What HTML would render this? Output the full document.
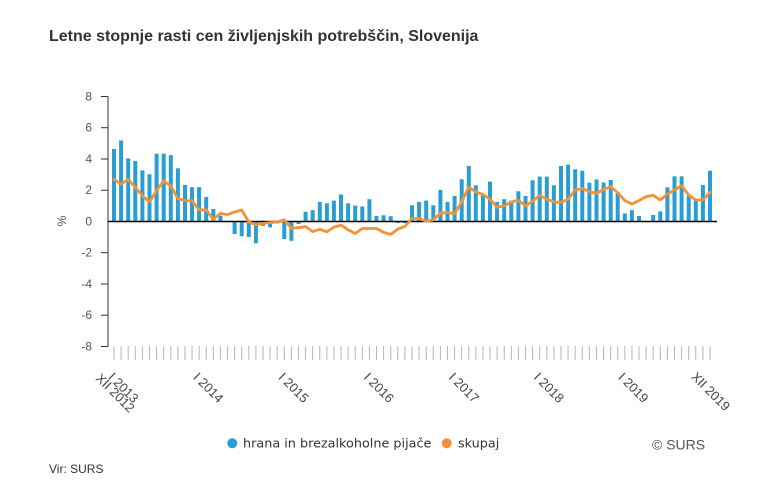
<!DOCTYPE html>
<html><head><meta charset="utf-8"><style>
html,body{margin:0;padding:0;background:#fff;}
svg{display:block;}
</style></head><body>
<svg width="784" height="492" viewBox="0 0 784 492" xmlns="http://www.w3.org/2000/svg">
<rect width="784" height="492" fill="#fff"/>
<text x="49" y="41" font-family="Liberation Sans, Arial, sans-serif" font-size="16" font-weight="bold" fill="#333">Letne stopnje rasti cen življenjskih potrebščin, Slovenija</text>
<g font-family="Liberation Sans, Arial, sans-serif" font-size="12" fill="#555" text-anchor="end">
<text x="92" y="100.5">8</text>
<text x="92" y="131.7">6</text>
<text x="92" y="163">4</text>
<text x="92" y="194.2">2</text>
<text x="92" y="225.5">0</text>
<text x="92" y="256.7">-2</text>
<text x="92" y="288">-4</text>
<text x="92" y="319.2">-6</text>
<text x="92" y="350.5">-8</text>
</g>
<text x="0" y="0" transform="translate(66,221) rotate(-90)" font-family="Liberation Sans, Arial, sans-serif" font-size="12" fill="#555" text-anchor="middle">%</text>
<g stroke="#333" stroke-width="1">
<line x1="108" y1="96.5" x2="108" y2="346.5"/>
<line x1="101" y1="96.5" x2="108" y2="96.5"/>
<line x1="101" y1="127.7" x2="108" y2="127.7"/>
<line x1="101" y1="159" x2="108" y2="159"/>
<line x1="101" y1="190.2" x2="108" y2="190.2"/>
<line x1="101" y1="252.7" x2="108" y2="252.7"/>
<line x1="101" y1="284" x2="108" y2="284"/>
<line x1="101" y1="315.2" x2="108" y2="315.2"/>
<line x1="101" y1="346.5" x2="108" y2="346.5"/>
</g>
<line x1="113.5" y1="353" x2="711" y2="353" stroke="#b5b5b5" stroke-width="14" stroke-dasharray="1 6.095"/>
<g fill="#2a9ed2">
<rect x="112.0" y="149.0" width="4" height="72.5"/>
<rect x="119.1" y="140.4" width="4" height="81.1"/>
<rect x="126.2" y="158.4" width="4" height="63.1"/>
<rect x="133.3" y="161.0" width="4" height="60.5"/>
<rect x="140.4" y="170.4" width="4" height="51.1"/>
<rect x="147.5" y="174.3" width="4" height="47.2"/>
<rect x="154.6" y="153.7" width="4" height="67.8"/>
<rect x="161.7" y="153.7" width="4" height="67.8"/>
<rect x="168.8" y="155.1" width="4" height="66.4"/>
<rect x="175.9" y="168.3" width="4" height="53.2"/>
<rect x="183.0" y="184.9" width="4" height="36.6"/>
<rect x="190.0" y="187.2" width="4" height="34.3"/>
<rect x="197.1" y="187.2" width="4" height="34.3"/>
<rect x="204.2" y="196.9" width="4" height="24.6"/>
<rect x="211.3" y="209.0" width="4" height="12.5"/>
<rect x="218.4" y="215.6" width="4" height="5.9"/>
<rect x="232.6" y="221.5" width="4" height="12.5"/>
<rect x="239.7" y="221.5" width="4" height="14.8"/>
<rect x="246.8" y="221.5" width="4" height="15.6"/>
<rect x="253.9" y="221.5" width="4" height="21.8"/>
<rect x="261.0" y="221.5" width="4" height="4.4"/>
<rect x="268.1" y="221.5" width="4" height="5.9"/>
<rect x="275.2" y="221.5" width="4" height="1.9"/>
<rect x="282.3" y="221.5" width="4" height="17.5"/>
<rect x="289.4" y="221.5" width="4" height="19.3"/>
<rect x="296.5" y="221.5" width="4" height="2.5"/>
<rect x="303.6" y="211.8" width="4" height="9.7"/>
<rect x="310.7" y="210.1" width="4" height="11.4"/>
<rect x="317.8" y="201.9" width="4" height="19.6"/>
<rect x="324.9" y="203.3" width="4" height="18.2"/>
<rect x="331.9" y="200.6" width="4" height="20.9"/>
<rect x="339.0" y="194.5" width="4" height="27.0"/>
<rect x="346.1" y="203.3" width="4" height="18.2"/>
<rect x="353.2" y="205.6" width="4" height="15.9"/>
<rect x="360.3" y="206.5" width="4" height="15.0"/>
<rect x="367.4" y="199.2" width="4" height="22.3"/>
<rect x="374.5" y="215.9" width="4" height="5.6"/>
<rect x="381.6" y="215.3" width="4" height="6.2"/>
<rect x="388.7" y="216.2" width="4" height="5.3"/>
<rect x="395.8" y="221.5" width="4" height="1.6"/>
<rect x="402.9" y="221.5" width="4" height="1.6"/>
<rect x="410.0" y="205.3" width="4" height="16.2"/>
<rect x="417.1" y="201.9" width="4" height="19.6"/>
<rect x="424.2" y="200.6" width="4" height="20.9"/>
<rect x="431.3" y="205.3" width="4" height="16.2"/>
<rect x="438.4" y="189.9" width="4" height="31.6"/>
<rect x="445.5" y="201.9" width="4" height="19.6"/>
<rect x="452.6" y="195.9" width="4" height="25.6"/>
<rect x="459.7" y="179.3" width="4" height="42.2"/>
<rect x="466.8" y="166.0" width="4" height="55.5"/>
<rect x="473.8" y="185.3" width="4" height="36.2"/>
<rect x="480.9" y="195.0" width="4" height="26.5"/>
<rect x="488.0" y="181.6" width="4" height="39.9"/>
<rect x="495.1" y="201.9" width="4" height="19.6"/>
<rect x="502.2" y="199.2" width="4" height="22.3"/>
<rect x="509.3" y="200.6" width="4" height="20.9"/>
<rect x="516.4" y="191.3" width="4" height="30.2"/>
<rect x="523.5" y="195.9" width="4" height="25.6"/>
<rect x="530.6" y="180.3" width="4" height="41.2"/>
<rect x="537.7" y="176.6" width="4" height="44.9"/>
<rect x="544.8" y="176.6" width="4" height="44.9"/>
<rect x="551.9" y="185.3" width="4" height="36.2"/>
<rect x="559.0" y="166.0" width="4" height="55.5"/>
<rect x="566.1" y="164.6" width="4" height="56.9"/>
<rect x="573.2" y="169.3" width="4" height="52.2"/>
<rect x="580.3" y="170.7" width="4" height="50.8"/>
<rect x="587.4" y="182.7" width="4" height="38.8"/>
<rect x="594.5" y="179.4" width="4" height="42.1"/>
<rect x="601.6" y="182.5" width="4" height="39.0"/>
<rect x="608.7" y="180.0" width="4" height="41.5"/>
<rect x="615.7" y="192.3" width="4" height="29.2"/>
<rect x="622.8" y="213.4" width="4" height="8.1"/>
<rect x="629.9" y="210.1" width="4" height="11.4"/>
<rect x="637.0" y="216.0" width="4" height="5.5"/>
<rect x="651.2" y="215.0" width="4" height="6.5"/>
<rect x="658.3" y="211.4" width="4" height="10.1"/>
<rect x="665.4" y="187.4" width="4" height="34.1"/>
<rect x="672.5" y="176.3" width="4" height="45.2"/>
<rect x="679.6" y="176.3" width="4" height="45.2"/>
<rect x="686.7" y="195.6" width="4" height="25.9"/>
<rect x="693.8" y="199.7" width="4" height="21.8"/>
<rect x="700.9" y="185.0" width="4" height="36.5"/>
<rect x="708.0" y="170.7" width="4" height="50.8"/>
</g>
<line x1="108" y1="221.5" x2="717" y2="221.5" stroke="#000" stroke-width="1.5"/>
<polyline fill="none" stroke="#f59236" stroke-width="2.8" stroke-linejoin="round" stroke-linecap="round" points="114,179.4 121.1,184.1 128.2,179.4 135.3,187.2 142.4,195.9 149.5,201.9 156.6,190.6 163.7,181.0 170.8,186.0 177.9,198.6 185.0,200.6 192.0,200.6 199.1,209.8 206.2,210.0 213.3,219.3 220.4,213.4 227.5,214.6 234.6,212.0 241.7,210.0 248.8,222.0 255.9,224.6 263.0,223.4 270.1,222.6 277.2,222.0 284.3,219.9 291.4,228.4 298.5,227.7 305.6,226.6 312.7,231.6 319.8,229.3 326.9,231.8 333.9,227.1 341.0,225.1 348.1,229.8 355.2,233.5 362.3,228.5 369.4,228.5 376.5,228.5 383.6,232.4 390.7,234.4 397.8,229.1 404.9,226.5 412.0,218.5 419.1,218.5 426.2,221.2 433.3,219.9 440.4,213.2 447.5,212.5 454.6,213.9 461.7,201.9 468.8,187.2 475.8,191.9 482.9,194.5 490.0,199.2 497.1,207.2 504.2,205.9 511.3,201.9 518.4,200.3 525.5,205.9 532.6,201.2 539.7,195.3 546.8,199.2 553.9,201.9 561.0,202.5 568.1,199.2 575.2,189.9 582.3,188.6 589.4,191.6 596.5,193.4 603.6,189.4 610.7,186.7 617.7,192.7 624.8,200.6 631.9,204.0 639.0,200.6 646.1,196.6 653.2,195.3 660.3,200.0 667.4,194.1 674.5,190.0 681.6,185.6 688.7,195.0 695.8,200.0 702.9,200.0 710.0,192.3"/>
<g font-family="Liberation Sans, Arial, sans-serif" font-size="13" fill="#444">
<text transform="translate(95,379) rotate(45)">XII 2012</text>
<text transform="translate(107.5,378) rotate(45)">I 2013</text>
<text transform="translate(192.5,378) rotate(45)">I 2014</text>
<text transform="translate(277.8,378) rotate(45)">I 2015</text>
<text transform="translate(363,378) rotate(45)">I 2016</text>
<text transform="translate(448,378) rotate(45)">I 2017</text>
<text transform="translate(533,378) rotate(45)">I 2018</text>
<text transform="translate(617.5,378) rotate(45)">I 2019</text>
<text transform="translate(690.5,377.5) rotate(45)">XII 2019</text>
</g>
<circle cx="232.3" cy="443.3" r="5" fill="#2a9ed2"/>
<text x="243" y="447.5" font-family="DejaVu Sans, Verdana, sans-serif" font-size="12.8" fill="#333">hrana in brezalkoholne pijače</text>
<circle cx="446.7" cy="443.3" r="5" fill="#f59236"/>
<text x="458" y="447.5" font-family="DejaVu Sans, Verdana, sans-serif" font-size="12.8" fill="#333">skupaj</text>
<text x="652" y="449.3" font-family="Liberation Sans, Arial, sans-serif" font-size="14" fill="#555">© SURS</text>
<text x="49" y="473" font-family="Liberation Sans, Arial, sans-serif" font-size="12" fill="#333">Vir: SURS</text>
</svg>
</body></html>
